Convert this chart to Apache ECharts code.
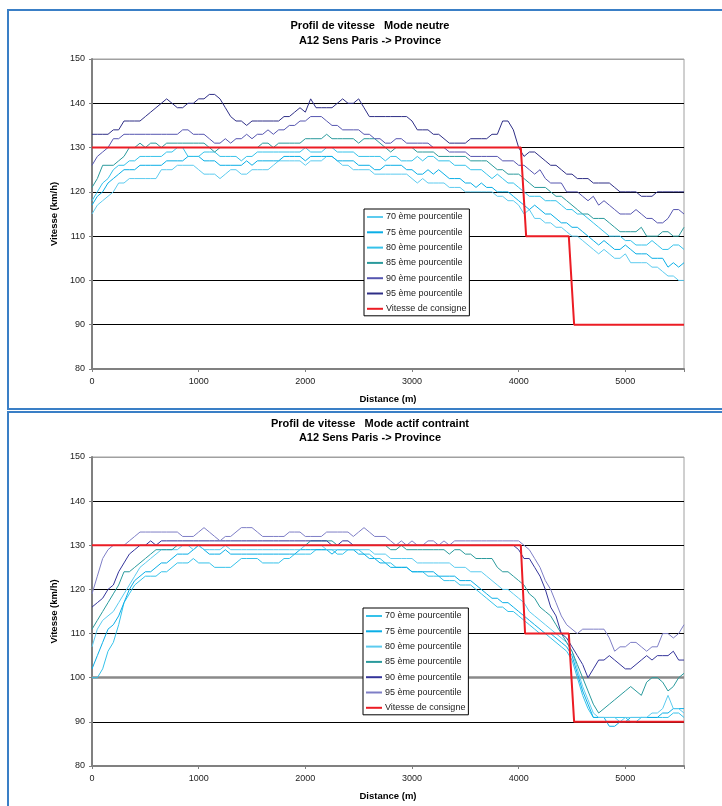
<!DOCTYPE html>
<html><head><meta charset="utf-8">
<script src="https://cdn.jsdelivr.net/npm/echarts@6/dist/echarts.min.js"></script>
<style>
html,body{margin:0;padding:0;background:#fff;width:722px;height:806px;overflow:hidden;position:relative;}
.frame{position:absolute;border:2px solid #3a7fc6;box-sizing:border-box;z-index:0;}
#c1{position:absolute;left:0;top:0;width:722px;height:410px;z-index:1;}
#c2{position:absolute;left:0;top:410px;width:722px;height:396px;z-index:1;}
</style></head>
<body>
<div class="frame" style="left:7px;top:9px;width:730px;height:401px;"></div>
<div class="frame" style="left:7px;top:411px;width:730px;height:420px;"></div>
<div id="c1"></div>
<div id="c2"></div>
<script>
const distances = [
0,50,100,150,200,250,300,350,400,450,
500,550,600,650,700,750,800,850,900,950,
1000,1050,1100,1150,1200,1250,1300,1350,1400,1450,
1500,1550,1600,1650,1700,1750,1800,1850,1900,1950,
2000,2050,2100,2150,2200,2250,2300,2350,2400,2450,
2500,2550,2600,2650,2700,2750,2800,2850,2900,2950,
3000,3050,3100,3150,3200,3250,3300,3350,3400,3450,
3500,3550,3600,3650,3700,3750,3800,3850,3900,3950,
4000,4050,4100,4150,4200,4250,4300,4350,4400,4450,
4500,4550,4600,4650,4700,4750,4800,4850,4900,4950,
5000,5050,5100,5150,5200,5250,5300,5350,5400,5450,
5500,5550];

const seriesNames = ['70 ème pourcentile','75 ème pourcentile','80 ème pourcentile','85 ème pourcentile','90 ème pourcentile','95 ème pourcentile','Vitesse de consigne'];
const yTicks = [80,90,100,110,120,130,140,150];
const xTicks = [0,1000,2000,3000,4000,5000];

// ---- Mode neutre ----
const neutre70 = [
115,117,118,119,120,122,122,123,123,123,
123,123,123,125,125,125,126,126,126,126,
125,124,124,124,123,124,125,125,124,124,
125,125,125,125,126,127,127,127,127,127,
126,127,127,127,128,128,127,126,126,125,
125,125,125,124,124,124,124,124,124,124,
123,122,123,122,122,122,122,121,121,121,
120,120,120,120,120,120,119,119,118,118,
117,115,116,114,114,113,113,112,112,111,
110,110,109,108,107,106,107,106,105,105,
106,104,104,104,104,103,103,102,101,101,
100,100];
const neutre75 = [
117,119,120,122,123,124,125,125,125,126,
126,126,126,126,127,127,127,127,128,128,
128,127,127,127,126,126,126,126,126,127,
126,127,127,127,127,127,128,128,128,128,
127,128,128,128,128,128,127,127,127,127,
126,126,126,125,125,126,126,126,126,125,
125,124,124,125,124,125,124,123,123,123,
122,122,121,122,121,121,120,120,120,119,
118,117,116,117,116,115,115,114,113,113,
112,112,111,110,109,108,109,108,107,107,
108,107,106,106,106,105,105,105,103,104,
103,104];
const neutre80 = [
118,120,122,123,125,126,126,127,127,128,
128,128,128,128,129,129,130,130,128,128,
128,129,129,129,128,128,128,128,127,128,
128,129,129,129,129,129,129,129,129,129,
130,129,129,129,130,130,129,129,129,129,
128,128,128,128,128,127,128,128,127,127,
127,128,127,128,128,127,127,127,126,126,
126,125,125,125,124,123,124,123,122,122,
121,120,119,119,119,118,118,118,117,116,
116,115,115,114,113,112,111,110,110,110,
109,109,108,108,108,109,108,107,107,108,
108,107];
const neutre85 = [
121,123,126,126,126,127,128,130,130,131,
130,131,131,130,131,131,131,131,131,131,
131,131,130,129,130,130,130,130,130,130,
130,130,131,131,130,131,131,131,131,131,
132,132,132,132,133,132,132,132,132,132,
131,132,132,132,131,130,129,130,130,130,
130,129,129,129,129,128,128,128,128,128,
128,127,127,127,127,126,125,125,124,124,
124,123,122,121,121,121,120,119,119,118,
117,116,115,115,114,114,114,113,112,111,
111,111,111,112,110,110,110,111,111,110,
110,112];
const neutre90 = [
126,128,129,130,132,132,133,133,133,133,
133,133,133,133,133,133,133,134,134,133,
133,133,132,131,131,132,131,132,132,133,
132,133,133,134,133,134,134,135,135,136,
136,137,137,137,136,135,135,134,134,134,
134,133,133,132,132,131,131,132,132,131,
131,131,131,131,130,130,130,129,129,129,
129,128,128,128,128,128,128,127,127,127,
126,126,125,124,125,123,122,122,122,120,
120,120,119,118,119,117,118,117,116,115,
115,115,116,115,114,114,113,113,114,116,
116,115];
const neutre95 = [
133,133,133,133,134,134,136,136,136,136,
137,138,139,140,141,140,139,139,140,140,
141,141,142,142,141,139,137,136,136,135,
136,136,136,136,136,136,137,137,138,139,
138,141,139,139,139,139,140,141,140,140,
141,139,137,137,137,137,137,137,137,137,
136,134,134,134,133,133,132,131,131,131,
131,132,132,132,132,133,133,136,136,134,
130,128,129,129,128,127,126,126,125,124,
124,123,123,123,122,122,122,122,121,120,
120,120,120,119,119,119,120,120,120,120,
120,120];
const neutreConsigneDist = [0,4020,4070,4470,4520,5550];
const neutreConsigne = [130,130,110,110,90,90];

// ---- Mode actif contraint ----
const actif70 = [
100,100,102,106,108,112,117,119,121,122,
123,123,123,124,124,125,126,126,126,127,
126,126,126,125,125,125,125,126,127,127,
127,127,126,126,126,126,127,127,128,128,
128,128,129,129,129,129,128,128,129,129,
129,128,128,127,127,126,126,125,125,125,
124,124,124,123,123,123,122,122,122,121,
121,121,120,119,118,117,116,116,115,115,
114,113,112,111,110,110,109,108,107,106,
104,100,96,93,91,91,91,91,91,91,
91,90,90,91,91,91,91,91,91,92,
92,91];
const actif75 = [
102,105,108,111,112,114,117,120,122,123,
124,124,125,126,126,127,128,128,128,129,
130,129,128,128,128,129,128,128,128,128,
128,128,128,128,128,128,128,128,128,129,
129,129,129,129,129,128,129,129,129,129,
128,128,127,127,126,126,125,125,125,125,
124,124,124,124,124,123,123,123,123,122,
122,122,121,120,119,118,118,117,117,116,
115,114,113,112,111,110,110,109,108,107,
105,101,97,94,91,91,91,89,89,90,
90,91,91,91,91,91,91,92,92,93,
93,93];
const actif80 = [
107,111,113,114,115,117,119,121,123,125,
126,127,128,129,129,129,129,130,130,129,
130,129,129,129,129,130,129,129,129,129,
129,129,129,129,129,129,129,129,129,129,
130,130,130,130,129,129,129,129,129,129,
129,129,129,128,128,128,127,127,127,127,
127,126,126,126,126,126,126,126,125,125,
125,124,124,124,123,122,121,120,120,119,
118,117,115,114,113,112,111,110,109,108,
106,102,98,95,92,91,91,91,91,90,
91,91,91,91,91,92,92,93,96,93,
93,92];
const actif85 = [
111,113,115,117,119,121,124,124,125,126,
127,128,129,129,129,129,130,130,130,130,
130,130,130,130,130,130,130,130,130,130,
130,130,130,130,130,130,130,130,130,130,
130,131,131,131,131,131,130,130,130,130,
130,130,130,130,130,130,129,129,130,129,
129,129,129,129,129,129,129,128,129,129,
128,128,127,127,127,127,125,124,124,123,
122,121,119,118,116,115,114,112,110,108,
106,103,100,97,94,92,93,94,95,96,
97,98,97,96,99,100,100,99,97,98,
100,101];
const actif90 = [
116,117,118,120,121,124,126,128,129,130,
130,131,130,131,131,131,131,131,131,131,
131,131,131,131,131,131,131,131,131,131,
131,131,131,131,131,131,131,131,131,131,
131,131,131,131,131,130,130,131,131,130,
130,130,130,130,130,130,130,130,130,130,
130,130,130,130,130,130,130,130,130,130,
130,130,130,130,130,130,130,130,130,130,
129,127,127,125,123,120,116,114,110,109,
107,105,103,100,102,104,104,105,104,103,
102,102,103,104,105,104,105,105,105,106,
104,104];
const actif95 = [
119,123,127,129,130,130,130,131,132,133,
133,133,133,133,133,133,133,132,132,132,
133,134,133,132,131,132,132,133,134,134,
134,133,132,132,132,132,132,133,133,133,
132,132,132,132,133,133,133,133,133,132,
133,134,133,132,132,132,131,130,131,130,
131,130,130,131,131,130,131,130,131,131,
131,131,131,131,131,131,131,131,131,131,
131,130,129,127,125,122,120,117,114,112,
111,110,111,111,111,111,111,109,106,107,
107,108,108,107,106,107,107,110,110,109,
110,112];
const actifConsigneDist = [0,4020,4060,4470,4520,5550];
const actifConsigne = [130,130,110,110,90,90];

const FONT = '"Liberation Sans", Arial, sans-serif';

function pairs(xs, ys){ return xs.map((d,i)=>[d, ys[i]]); }

function lineSeries(name, xs, ys, color, width, z){
  return {type:'line', name:name, data:pairs(xs, ys), symbol:'none', showSymbol:false,
    lineStyle:{color:color, width:width}, itemStyle:{color:color}, z:z||2, animation:false};
}

function buildOption(cfg){
  const cols = cfg.colors;
  const series = [
    lineSeries(seriesNames[0], distances, cfg.s70, cols[0], 1),
    lineSeries(seriesNames[1], distances, cfg.s75, cols[1], 1),
    lineSeries(seriesNames[2], distances, cfg.s80, cols[2], 1),
    lineSeries(seriesNames[3], distances, cfg.s85, cols[3], 1),
    lineSeries(seriesNames[4], distances, cfg.s90, cols[4], 1),
    lineSeries(seriesNames[5], distances, cfg.s95, cols[5], 1),
    lineSeries(seriesNames[6], cfg.cDist, cfg.cons, cols[6], 2, 5)
  ];
  if (cfg.grayLine !== undefined){
    series[6].markLine = {silent:true, symbol:'none', label:{show:false},
      lineStyle:{color:'#8a8a8a', width:2.5, type:'solid'}, data:[{yAxis:cfg.grayLine}], z:1};
  }
  return {
    animation:false,
    textStyle:{fontFamily:FONT},
    graphic:[
      {type:'text', x:370, y:cfg.t1y, style:{text:cfg.title1, font:'bold 11px '+FONT, fill:'#000', textAlign:'center', align:'center', textVerticalAlign:'middle', verticalAlign:'middle'}},
      {type:'text', x:370, y:cfg.t2y, style:{text:cfg.title2, font:'bold 11px '+FONT, fill:'#000', textAlign:'center', align:'center', textVerticalAlign:'middle', verticalAlign:'middle'}}
    ],
    grid:{left:92, top:cfg.gridTop, width:592, height:cfg.gridH, show:true, borderColor:'#a0a0a0', borderWidth:1, backgroundColor:'transparent'},
    legend:{orient:'vertical', left:cfg.legLeft, top:cfg.legTop, padding:[3,3,2,3], icon:'rect',
      itemWidth:16, itemHeight:2, itemGap:5.3,
      borderColor:'#000', borderWidth:1, backgroundColor:'#fff', borderRadius:0,
      selectedMode:false,
      textStyle:{fontSize:9, color:'#222', fontFamily:FONT, lineHeight:10, padding:[0,0,0,-2]},
      data:seriesNames},
    xAxis:{type:'value', min:0, max:5550, interval:1000,
      axisLine:{show:true, onZero:false, lineStyle:{color:'#808080', width:2}},
      axisTick:{show:true, length:3, lineStyle:{color:'#808080'}},
      axisLabel:{fontSize:9, color:'#222', margin:8, fontFamily:FONT,
        formatter:function(v){ return xTicks.indexOf(v) >= 0 ? String(v) : ''; }},
      splitLine:{show:false},
      name:'Distance (m)', nameLocation:'middle', nameGap:25,
      nameTextStyle:{fontWeight:'bold', fontSize:9.5, color:'#000', fontFamily:FONT}},
    yAxis:{type:'value', min:yTicks[0], max:yTicks[yTicks.length-1], interval:10,
      axisLine:{show:true, lineStyle:{color:'#808080', width:2}},
      axisTick:{show:true, length:3, lineStyle:{color:'#808080'}},
      axisLabel:{fontSize:9, color:'#222', margin:7, fontFamily:FONT},
      splitLine:{show:true, lineStyle:{color:cfg.splitColors, width:1}},
      name:'Vitesse (km/h)', nameLocation:'middle', nameGap:27,
      nameTextStyle:{fontWeight:'bold', fontSize:9.5, color:'#000', fontFamily:FONT}},
    series:series
  };
}

const c1 = echarts.init(document.getElementById('c1'), null, {renderer:'canvas'});
c1.setOption(buildOption({
  title1:'Profil de vitesse   Mode neutre', title2:'A12 Sens Paris -> Province', t1y:26, t2y:41,
  gridTop:59, gridH:310, legLeft:364, legTop:209,
  s70:neutre70, s75:neutre75, s80:neutre80, s85:neutre85, s90:neutre90, s95:neutre95,
  cDist:neutreConsigneDist, cons:neutreConsigne,
  colors:['#5ccbef','#0aaee6','#35c2ea','#2a9a9c','#5656b0','#2e2e86','#ec1c24'],
  splitColors:['#808080','#000','#000','#000','#000','#000','#000','#a0a0a0']
}));

const c2 = echarts.init(document.getElementById('c2'), null, {renderer:'canvas'});
c2.setOption(buildOption({
  title1:'Profil de vitesse   Mode actif contraint', title2:'A12 Sens Paris -> Province', t1y:14, t2y:28,
  gridTop:47, gridH:312, legLeft:363, legTop:198,
  s70:actif70, s75:actif75, s80:actif80, s85:actif85, s90:actif90, s95:actif95,
  cDist:actifConsigneDist, cons:actifConsigne,
  colors:['#35c2ea','#0aaee6','#5ccbef','#2a9a9c','#34349a','#7e7ec6','#ec1c24'],
  splitColors:['#808080','#000','#808080','#000','#000','#000','#000','#a0a0a0'],
  grayLine:100
}));
</script>
</body></html>
